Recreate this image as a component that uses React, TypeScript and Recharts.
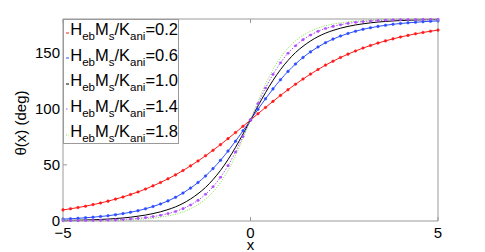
import React from 'react'
import { LineChart, Line, XAxis, YAxis } from 'recharts'

const xs = [
  -5, -4.8, -4.6, -4.4, -4.2, -4, -3.8, -3.6, -3.4, -3.2, -3, -2.8, -2.6, -2.4, -2.2, -2, -1.8, -1.6, -1.4, -1.2, -1,
  -0.8, -0.6, -0.4, -0.2, 0, 0.2, 0.4, 0.6, 0.8, 1, 1.2, 1.4, 1.6, 1.8, 2, 2.2, 2.4, 2.6, 2.8, 3, 3.2, 3.4, 3.6, 3.8,
  4, 4.2, 4.4, 4.6, 4.8, 5
]

// theta (deg) for each ratio
const h02 = [
  9.9, 10.9, 12.0, 13.2, 14.6, 16.0, 17.7, 19.5, 21.4, 23.6, 25.9, 28.5, 31.3, 34.3, 37.6, 41.1, 45.0, 49.1, 53.5, 58.1,
  63.0, 68.1, 73.4, 78.8, 84.4, 90, 95.6, 101.2, 106.6, 111.9, 117.0, 121.9, 126.5, 130.9, 135.0, 138.9, 142.4, 145.7,
  148.7, 151.5, 154.1, 156.4, 158.6, 160.5, 162.3, 164.0, 165.4, 166.8, 168.0, 169.1, 170.1
]
const h06 = [
  1.7, 2.0, 2.4, 2.9, 3.4, 4.0, 4.7, 5.6, 6.6, 7.8, 9.2, 10.9, 12.9, 15.2, 17.9, 21.1, 24.9, 29.3, 34.3, 40.1, 46.7,
  54.1, 62.3, 71.1, 80.4, 90, 99.6, 108.9, 117.7, 125.9, 133.3, 139.9, 145.7, 150.7, 155.1, 158.9, 162.1, 164.8, 167.1,
  169.1, 170.8, 172.2, 173.4, 174.4, 175.3, 176.0, 176.6, 177.1, 177.6, 178.0, 178.3
]
const h10 = [
  0.5, 0.6, 0.7, 0.9, 1.1, 1.4, 1.7, 2.2, 2.7, 3.4, 4.3, 5.3, 6.6, 8.2, 10.2, 12.6, 15.7, 19.6, 24.3, 29.9, 36.9, 45.1,
  54.7, 65.6, 77.5, 90, 102.5, 114.4, 125.3, 134.9, 143.1, 150.1, 155.7, 160.4, 164.3, 167.4, 169.8, 171.8, 173.4,
  174.7, 175.7, 176.6, 177.3, 177.8, 178.3, 178.6, 178.9, 179.1, 179.3, 179.4, 179.5
]
const h14 = [
  0.2, 0.25, 0.3, 0.4, 0.5, 0.6, 0.8, 1.0, 1.4, 1.8, 2.3, 3.0, 3.9, 5.1, 6.6, 8.5, 11.0, 14.3, 18.4, 23.8, 30.5, 39.0,
  49.3, 61.5, 75.3, 90, 104.7, 118.5, 130.7, 141.0, 149.5, 156.2, 161.6, 165.7, 169.0, 171.5, 173.4, 174.9, 176.1,
  177.0, 177.7, 178.2, 178.6, 179.0, 179.2, 179.4, 179.5, 179.6, 179.7, 179.75, 179.8
]
const h18 = [
  0.1, 0.15, 0.2, 0.2, 0.3, 0.35, 0.5, 0.6, 0.8, 1.0, 1.4, 1.9, 2.5, 3.4, 4.5, 6.0, 8.1, 10.9, 14.6, 19.5, 25.9, 34.3,
  45.0, 58.1, 73.4, 90, 106.6, 121.9, 135.0, 145.7, 154.1, 160.5, 165.4, 169.1, 171.9, 174.0, 175.5, 176.6, 177.5,
  178.1, 178.6, 179.0, 179.2, 179.4, 179.5, 179.65, 179.7, 179.8, 179.8, 179.85, 179.9
]

const ratios = ['0.2', '0.6', '1.0', '1.4', '1.8']
const xTicks = [-5, 0, 5]
const yTicks = [0, 50, 100, 150]

const series = [
  { key: 'h02', color: '#ff1a1a', dash: undefined, dot: true },
  { key: 'h06', color: '#2a4dff', dash: undefined, dot: true },
  { key: 'h10', color: '#000000', dash: undefined, dot: false },
  { key: 'h14', color: '#b04dff', dash: '1.5 1.5', dot: true },
  { key: 'h18', color: '#7ee83a', dash: '1 1.5', dot: false }
]

const data = xs.map((x, i) => ({ x, h02: h02[i], h06: h06[i], h10: h10[i], h14: h14[i], h18: h18[i] }))

const axisColor = '#9a9a9a'
const font = '"Liberation Sans", Arial, sans-serif'

const fmt = (v: number) => (v < 0 ? '\u2212' + Math.abs(v) : String(v))

const BottomTick = ({ x, y, payload }: any) => (
  <g>
    <line x1={x} x2={x} y1={y} y2={y - 4} stroke={axisColor} />
    <text x={x} y={y + 17} textAnchor="middle" fontSize={15} fontFamily={font} fill="#000">
      {fmt(payload.value)}
    </text>
  </g>
)
const TopTick = ({ x, y }: any) => <line x1={x} x2={x} y1={y} y2={y + 4} stroke={axisColor} />
const LeftTick = ({ x, y, payload }: any) => (
  <g>
    <line x1={x} x2={x + 4} y1={y} y2={y} stroke={axisColor} />
    <text x={x - 3} y={y + 5} textAnchor="end" fontSize={15} fontFamily={font} fill="#000">
      {payload.value}
    </text>
  </g>
)
const RightTick = ({ x, y }: any) => <line x1={x} x2={x - 4} y1={y} y2={y} stroke={axisColor} />

function LegendRow({ color, dash, ratio }: { color: string; dash?: string; ratio: string }) {
  const sub = { fontSize: 11.5, position: 'relative' as const, top: 5 }
  return (
    <div style={{ height: 25.5, display: 'flex', alignItems: 'center', whiteSpace: 'nowrap' }}>
      <svg width={9} height={8} style={{ marginRight: 1 }}>
        <line x1={1} x2={8} y1={4} y2={4} stroke={color} strokeWidth={1} strokeDasharray={dash} />
      </svg>
      <span style={{ fontSize: 16.5, position: 'relative', top: -3, letterSpacing: 0 }}>
        H<span style={sub}>eb</span>M<span style={sub}>s</span>/K<span style={sub}>ani</span>={ratio}
      </span>
    </div>
  )
}

export default function App() {
  return (
    <div style={{ position: 'relative', width: 485, height: 252, fontFamily: font, background: '#fff' }}>
      <style>{'body{margin:0}'}</style>
      <LineChart width={485} height={252} data={data} margin={{ top: 0, right: 0, left: 0, bottom: 0 }}>
        <XAxis
          xAxisId="b"
          dataKey="x"
          type="number"
          domain={[-5, 5]}
          ticks={xTicks}
          height={31}
          tickSize={0}
          tickMargin={0}
          stroke={axisColor}
          tick={<BottomTick />}
          label={{
            content: ({ viewBox }: any) => (
              <text x={viewBox.x + viewBox.width / 2} y={viewBox.y + 29} textAnchor="middle" fontSize={15} fontFamily={font}>
                x
              </text>
            )
          }}
        />
        <XAxis
          xAxisId="t"
          orientation="top"
          dataKey="x"
          type="number"
          domain={[-5, 5]}
          ticks={xTicks}
          height={19}
          tickSize={0}
          tickMargin={0}
          stroke={axisColor}
          tick={<TopTick />}
        />
        <YAxis
          yAxisId="l"
          domain={[0, 180]}
          ticks={yTicks}
          width={63}
          tickSize={0}
          tickMargin={0}
          stroke={axisColor}
          tick={<LeftTick />}
          label={{
            content: ({ viewBox }: any) => {
              const cx = viewBox.x + 26
              const cy = viewBox.y + viewBox.height / 2 + 3
              return (
                <text x={cx} y={cy} transform={`rotate(-90 ${cx} ${cy})`} textAnchor="middle" fontSize={15} fontFamily={font}>
                  θ(x) (deg)
                </text>
              )
            }
          }}
        />
        <YAxis
          yAxisId="r"
          orientation="right"
          domain={[0, 180]}
          ticks={yTicks}
          width={47}
          tickSize={0}
          tickMargin={0}
          stroke={axisColor}
          tick={<RightTick />}
        />
        {series.map((s) => (
          <Line
            key={s.key}
            xAxisId="b"
            yAxisId="l"
            dataKey={s.key}
            type="monotone"
            stroke={s.color}
            strokeWidth={1}
            strokeDasharray={s.dash}
            dot={s.dot ? { r: 1.3, fill: s.color, stroke: s.color, strokeWidth: 0.5 } : false}
            isAnimationActive={false}
          />
        ))}
      </LineChart>
      <div
        style={{
          position: 'absolute',
          left: 63,
          top: 19,
          width: 116,
          height: 125,
          border: `1px solid ${axisColor}`,
          background: '#fff',
          boxSizing: 'border-box',
          paddingLeft: 1,
          paddingTop: 0
        }}
      >
        {series.map((s, i) => (
          <LegendRow key={s.key} color={s.color} dash={s.dash} ratio={ratios[i]} />
        ))}
      </div>
    </div>
  )
}
